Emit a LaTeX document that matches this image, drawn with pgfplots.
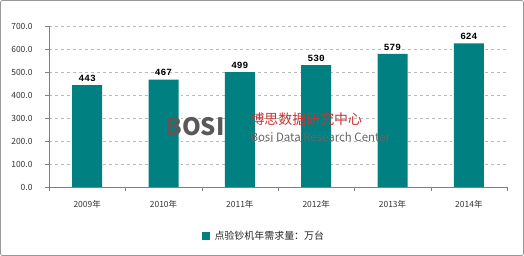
\documentclass[border=0pt]{standalone}
\usepackage{pgfplots}
\pgfplotsset{compat=1.18}
\usepackage{fontspec}
\setmainfont{Noto Sans CJK SC}
\newfontfamily\lab{Liberation Mono}
\definecolor{barteal}{RGB}{0,128,128}
\definecolor{axgray}{RGB}{128,128,128}
\begin{document}
\begin{tikzpicture}
\draw[draw=axgray!80, line width=0.8pt, rounded corners=2pt, fill=white] (-48.5bp,-68.5bp) rectangle (474.5bp,186.5bp);
\begin{axis}[
  at={(0,0)}, anchor=south west,
  scale only axis, width=458bp, height=161bp,
  ymin=0, ymax=700, ytick={0,100,...,700},
  xmin=-0.5, xmax=5.5,
  xtick={0,...,5},
  xticklabels={2009年,2010年,2011年,2012年,2013年,2014年},
  major x tick style={draw=none},
  minor xtick={-0.5,0.5,...,5.5},
  minor x tick style={draw=axgray},
  minor tick length=4bp,
  ytick style={draw=axgray},
  major tick length=4bp,
  tick align=outside,
  axis x line*=bottom, axis y line*=left,
  axis line style={draw=axgray, -},
  ymajorgrids, grid style={dashed, draw=gray!55},
  yticklabel={\pgfmathprintnumber[fixed,fixed zerofill,precision=1]{\tick}},
  /pgf/number format/assume math mode=true,
  ticklabel style={font=\fontsize{8.5}{10}\selectfont, text=black!80},
  xticklabel style={yshift=-6bp},
  yticklabel style={xshift=-9bp},
  nodes near coords,
  every node near coord/.append style={font=\lab\bfseries\fontsize{9.5}{11}\selectfont, text=black},
  point meta=explicit symbolic,
]
\addplot[ybar, bar width=30bp, fill=barteal, draw=none]
  coordinates {(0,443)[443] (1,467)[467] (2,499)[499] (3,530)[530] (4,579)[579] (5,624)[624]};
\end{axis}
\node[text=gray!70!black, font=\bfseries\fontsize{24}{24}\selectfont, anchor=west] at (113bp,60bp) {BOSI};
\node[text=red!60!gray, font=\fontsize{14}{14}\selectfont, anchor=west] at (198bp,68bp) {博思数据研究中心};
\node[text=gray!80!black, font=\fontsize{11.5}{12}\selectfont, anchor=west] at (198bp,50bp) {Bosi Data Research Center};
\fill[barteal] (153bp,-53bp) rectangle (161bp,-45bp);
\node[anchor=west, font=\fontsize{10}{12}\selectfont, text=black!85] at (162bp,-49bp) {点验钞机年需求量：万台};
\pgfresetboundingbox
\path[use as bounding box] (-49bp,-69bp) rectangle (475bp,187bp);
\end{tikzpicture}
\end{document}
